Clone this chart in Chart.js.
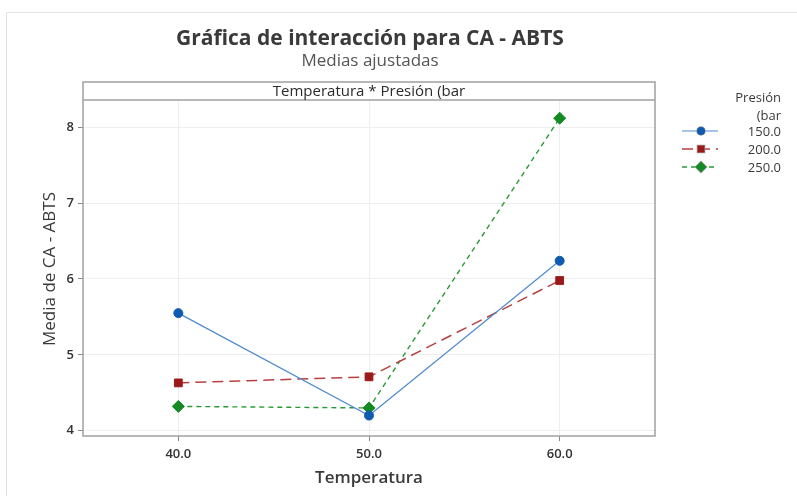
<!DOCTYPE html>
<html>
<head>
<meta charset="utf-8">
<script src="https://cdn.jsdelivr.net/npm/chart.js@4.4.1/dist/chart.umd.min.js"></script>
<style>
  html, body { margin: 0; padding: 0; background: #ffffff; }
  #wrap { width: 797px; height: 496px; position: relative; }
</style>
</head>
<body>
<div id="wrap"><canvas id="c" width="797" height="496"></canvas></div>
<script>
// Temperature levels and fitted means of CA - ABTS for each pressure level
const temperaturas = [40, 50, 60];
const presiones = ['150.0', '200.0', '250.0'];
const medias150 = [5.55, 4.20, 6.24];
const medias200 = [4.63, 4.71, 5.98];
const medias250 = [4.32, 4.30, 8.12];
const yTicks = [4, 5, 6, 7, 8];
const xTicks = [40, 50, 60];

const FONT = '"Open Sans", "Noto Sans", sans-serif';

const toPoints = vals => temperaturas.map((t, i) => ({ x: t, y: vals[i] }));

const datasets = [
  { label: presiones[0], data: toPoints(medias150), borderColor: '#4f8bd0', backgroundColor: '#0f5bb0',
    pointBorderColor: '#0f5bb0', borderWidth: 1.2, borderDash: [], pointStyle: 'circle', pointRadius: 4.5 },
  { label: presiones[1], data: toPoints(medias200), borderColor: '#b84040', backgroundColor: '#9a1a1a',
    pointBorderColor: '#9a1a1a', borderWidth: 1.5, borderDash: [11, 6], pointStyle: 'rect', pointRadius: 5.5 },
  { label: presiones[2], data: toPoints(medias250), borderColor: '#2a9a36', backgroundColor: '#148a22',
    pointBorderColor: '#148a22', borderWidth: 1.4, borderDash: [5, 4], pointStyle: 'rectRot', pointRadius: 6 }
].map(d => Object.assign({ tension: 0, fill: false, pointBorderWidth: 1, pointHoverRadius: d.pointRadius }, d));

// Frame, header strip, titles and legend drawn around the plot area
const decor = {
  id: 'decor',
  beforeDraw(chart) {
    const ctx = chart.ctx;
    ctx.save();
    ctx.fillStyle = '#ffffff';
    ctx.fillRect(0, 0, chart.width, chart.height);
    ctx.strokeStyle = '#e2e2e2';
    ctx.lineWidth = 1;
    ctx.beginPath();
    ctx.moveTo(6.5, 496);
    ctx.lineTo(6.5, 12.5);
    ctx.lineTo(797, 12.5);
    ctx.stroke();
    ctx.restore();
  },
  afterDraw(chart) {
    const ctx = chart.ctx;
    const a = chart.chartArea;
    ctx.save();
    // plot frame + header strip
    ctx.strokeStyle = '#a0a0a0';
    ctx.lineWidth = 1.5;
    ctx.strokeRect(a.left, 82, a.right - a.left, a.bottom - 82);
    ctx.beginPath();
    ctx.moveTo(a.left, a.top);
    ctx.lineTo(a.right, a.top);
    ctx.stroke();

    ctx.fillStyle = '#2b2b2b';
    ctx.textAlign = 'center';
    ctx.textBaseline = 'middle';
    ctx.font = '15px ' + FONT;
    ctx.fillText('Temperatura * Presión (bar', (a.left + a.right) / 2, 92);

    // titles
    ctx.font = 'bold 21px ' + FONT;
    ctx.fillStyle = '#3a3a3a';
    ctx.fillText('Gráfica de interacción para CA - ABTS', 370, 39);
    ctx.font = '17px ' + FONT;
    ctx.fillStyle = '#555555';
    ctx.fillText('Medias ajustadas', 370, 61);

    // axis titles
    ctx.font = '600 17px ' + FONT;
    ctx.fillStyle = '#3a3a3a';
    ctx.fillText('Temperatura', (a.left + a.right) / 2, 478);
    ctx.save();
    ctx.translate(50, 269);
    ctx.rotate(-Math.PI / 2);
    ctx.font = '17px ' + FONT;
    ctx.fillText('Media de CA - ABTS', 0, 0);
    ctx.restore();

    // legend
    ctx.font = '13px ' + FONT;
    ctx.fillStyle = '#3a3a3a';
    ctx.textAlign = 'right';
    ctx.fillText('Presión', 781, 98);
    ctx.fillText('(bar', 781, 116);
    chart.data.datasets.forEach((ds, i) => {
      const y = 131 + i * 18;
      ctx.save();
      ctx.strokeStyle = ds.borderColor;
      ctx.lineWidth = ds.borderWidth;
      ctx.setLineDash(ds.borderDash);
      ctx.beginPath();
      ctx.moveTo(682, y);
      ctx.lineTo(718, y);
      ctx.stroke();
      ctx.restore();
      Chart.helpers.drawPoint(ctx, {
        pointStyle: ds.pointStyle, radius: ds.pointRadius - 0.5, borderWidth: 1
      }, 701, y);
      ctx.save();
      ctx.fillStyle = ds.backgroundColor;
      ctx.strokeStyle = ds.pointBorderColor;
      ctx.fill();
      ctx.restore();
      ctx.fillStyle = '#3a3a3a';
      ctx.font = '13px ' + FONT;
      ctx.fillText(ds.label, 781, y + 1);
    });
    ctx.restore();
  }
};

new Chart(document.getElementById('c'), {
  type: 'line',
  data: { datasets },
  options: {
    responsive: false,
    animation: false,
    events: [],
    layout: { padding: { left: 0, right: 142, top: 100, bottom: 0 } },
    plugins: { legend: { display: false }, tooltip: { enabled: false }, title: { display: false } },
    scales: {
      x: {
        type: 'linear', min: 35, max: 65,
        afterFit: s => { s.height = 60; },
        afterBuildTicks: s => { s.ticks = xTicks.map(v => ({ value: v })); },
        grid: { color: '#eeeeee', lineWidth: 1, drawTicks: true, tickLength: 5, tickColor: '#888888' },
        border: { display: false },
        ticks: { color: '#333333', font: { family: FONT, size: 13, weight: '600' }, padding: 5,
                 callback: v => Number(v).toFixed(1) }
      },
      y: {
        type: 'linear', min: 3.93, max: 8.36,
        afterFit: s => { s.width = 83; },
        afterBuildTicks: s => { s.ticks = yTicks.map(v => ({ value: v })); },
        grid: { color: '#eeeeee', lineWidth: 1, drawTicks: true, tickLength: 5, tickColor: '#888888' },
        border: { display: false },
        ticks: { color: '#333333', font: { family: FONT, size: 13, weight: '600' }, padding: 4,
                 callback: v => String(v) }
      }
    }
  },
  plugins: [decor]
});
</script>
</body>
</html>
